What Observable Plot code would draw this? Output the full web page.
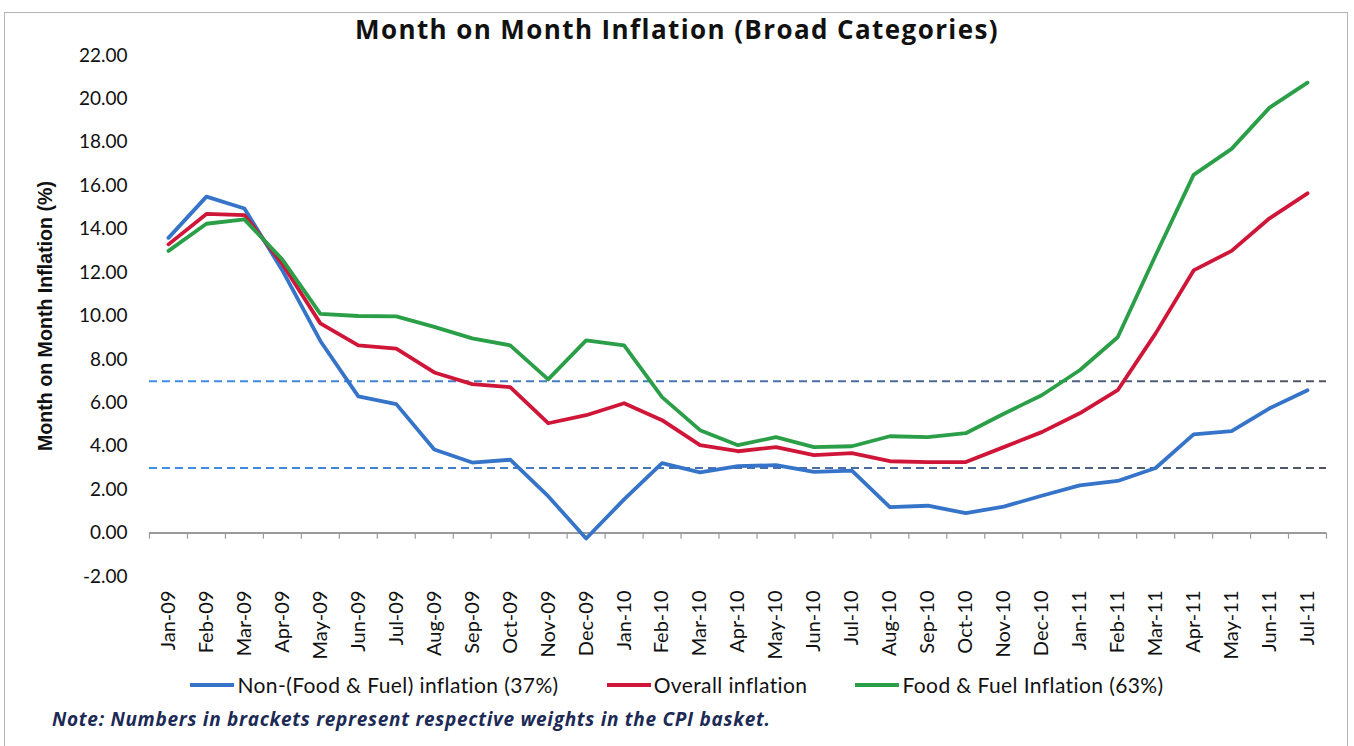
<!DOCTYPE html>
<html><head><meta charset="utf-8">
<script src="https://cdn.jsdelivr.net/npm/d3@7"></script>
<script src="https://cdn.jsdelivr.net/npm/@observablehq/plot@0.6"></script>
<style>
body{margin:0;background:#fff;}
#wrap{position:relative;width:1354px;height:746px;overflow:hidden;background:#fff;}
#frame{position:absolute;left:4px;top:12px;width:1342px;height:745px;border:1px solid #b5b5b5;}
#title{position:absolute;left:0;width:1354px;top:11px;text-align:center;font:bold 26px "Open Sans",sans-serif;letter-spacing:1.4px;color:#111;}
#chart{position:absolute;left:0;top:40px;}
#legend{position:absolute;top:672px;left:0;width:1354px;display:flex;justify-content:center;align-items:center;font:21px Lato,sans-serif;letter-spacing:0.4px;color:#111;}
#legend .item{display:flex;align-items:center;margin:0 24px;}
#legend .sw{width:44px;height:4px;margin-right:3px;}
#note{position:absolute;left:52px;top:706px;font:italic bold 19px "Open Sans",sans-serif;letter-spacing:0.7px;color:#1c2a55;}
</style></head>
<body><div id="wrap">
<div id="frame"></div>
<div id="title">Month on Month Inflation (Broad Categories)</div>
<div id="chart"></div>
<div id="legend"></div>
<div id="note">Note: Numbers in brackets represent respective weights in the CPI basket.</div>
</div>
<script>
const months = ["Jan-09","Feb-09","Mar-09","Apr-09","May-09","Jun-09","Jul-09","Aug-09","Sep-09","Oct-09","Nov-09","Dec-09",
  "Jan-10","Feb-10","Mar-10","Apr-10","May-10","Jun-10","Jul-10","Aug-10","Sep-10","Oct-10","Nov-10","Dec-10",
  "Jan-11","Feb-11","Mar-11","Apr-11","May-11","Jun-11","Jul-11"];
const nonFood = [13.6,15.5,14.95,12.1,8.85,6.3,5.94,3.85,3.25,3.38,1.7,-0.25,1.55,3.22,2.8,3.08,3.13,2.82,2.88,1.2,1.26,0.92,1.22,1.72,2.2,2.4,3.0,4.55,4.7,5.75,6.58];
const overall = [13.3,14.7,14.65,12.4,9.66,8.65,8.5,7.4,6.86,6.72,5.06,5.43,5.98,5.2,4.05,3.77,3.96,3.59,3.68,3.31,3.27,3.27,3.96,4.65,5.52,6.58,9.2,12.1,13.0,14.5,15.65];
const foodFuel = [13.0,14.25,14.45,12.6,10.1,10.0,9.98,9.5,8.97,8.65,7.08,8.88,8.65,6.26,4.74,4.05,4.42,3.96,4.0,4.46,4.42,4.6,5.5,6.35,7.5,9.02,12.8,16.5,17.7,19.6,20.75];
const seriesNames = ["Non-(Food & Fuel) inflation (37%)","Overall inflation","Food & Fuel Inflation (63%)"];
const seriesColors = ["#3574c8","#cf1538","#2b9e48"];
const thresholds = [7, 3];
const yTicks = [-2,0,2,4,6,8,10,12,14,16,18,20,22];
const yTitle = "Month on Month Inflation (%)";

const rows = [];
[nonFood, overall, foodFuel].forEach((arr, s) => arr.forEach((v, i) => rows.push({i, v, s: seriesNames[s]})));
const idx = months.map((_, i) => i);
const bounds = [...idx.map(i => i - 0.5), months.length - 0.5];

const plot = Plot.plot({
  width: 1354, height: 630,
  marginLeft: 149, marginRight: 28, marginTop: 15, marginBottom: 94,
  style: {fontFamily: "Lato, sans-serif", fontSize: "19px", color: "#111", background: "transparent"},
  x: {type: "linear", domain: [-0.5, months.length - 0.5]},
  y: {domain: [-2, 22]},
  color: {domain: seriesNames, range: seriesColors},
  marks: [
    Plot.axisY({ticks: yTicks, tickFormat: d => d.toFixed(2), tickSize: 0, tickPadding: 22, label: null, fontSize: 19}),
    Plot.axisX({ticks: idx, tickFormat: i => months[i], tickRotate: -90, tickSize: 0, tickPadding: 14, label: null, fontSize: 20, anchor: "bottom"}),
    Plot.ruleY(thresholds, {stroke: "url(#dashGrad)", strokeWidth: 2, strokeDasharray: "8,5"}),
    Plot.ruleY([0], {stroke: "#9a9a9a", strokeWidth: 2}),
    Plot.ruleX(bounds, {x: d => d, y1: 0, y2: -0.28, stroke: "#9a9a9a", strokeWidth: 1.2}),
    Plot.line(rows, {x: "i", y: "v", z: "s", stroke: "s", strokeWidth: 3.8, strokeLinejoin: "round", strokeLinecap: "round"}),
    Plot.text([yTitle], {frameAnchor: "left", rotate: -90, dx: -104, textAnchor: "middle", fontSize: 21, fontWeight: "bold", fontFamily: "Liberation Sans, Arial, sans-serif", fill: "#111", className: "ytitle"})
  ]
});
const svg = d3.select(plot);
svg.selectAll(".ytitle text").attr("textLength", 270).attr("lengthAdjust", "spacingAndGlyphs");
const grad = svg.insert("defs", ":first-child").append("linearGradient")
  .attr("id", "dashGrad").attr("gradientUnits", "userSpaceOnUse")
  .attr("x1", 149).attr("x2", 1326).attr("y1", 0).attr("y2", 0);
grad.append("stop").attr("offset", "0%").attr("stop-color", "#3d8fe8");
grad.append("stop").attr("offset", "55%").attr("stop-color", "#4a6fa8");
grad.append("stop").attr("offset", "100%").attr("stop-color", "#505560");
document.getElementById("chart").appendChild(plot);

const legend = d3.select("#legend");
seriesNames.forEach((n, k) => {
  const it = legend.append("div").attr("class", "item");
  it.append("div").attr("class", "sw").style("background", seriesColors[k]);
  it.append("span").text(n);
});
</script>
</body></html>
